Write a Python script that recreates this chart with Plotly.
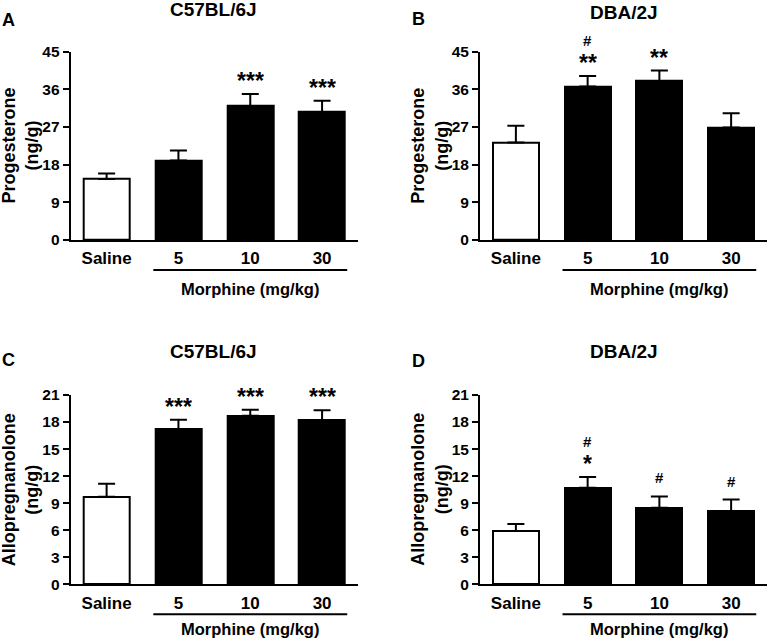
import plotly.graph_objects as go

# ---------------- data ----------------
categories = ["Saline", "5", "10", "30"]

prog_b6_mean = [14.6, 19.0, 32.0, 30.6]
prog_b6_sem = [1.3, 2.4, 2.9, 2.7]
prog_dba_mean = [23.3, 36.7, 38.0, 26.9]
prog_dba_sem = [4.0, 2.5, 2.5, 3.4]
allo_b6_mean = [9.7, 17.2, 18.7, 18.2]
allo_b6_sem = [1.45, 1.05, 0.65, 1.1]
allo_dba_mean = [5.9, 10.7, 8.5, 8.1]
allo_dba_sem = [0.8, 1.2, 1.25, 1.3]

stars_A = ["", "", "***", "***"]
stars_B = ["", "**", "**", ""]
stars_C = ["", "***", "***", "***"]
stars_D = ["", "*", "", ""]
hash_A = ["", "", "", ""]
hash_B = ["", "#", "", ""]
hash_C = ["", "", "", ""]
hash_D = ["", "#", "#", "#"]

panel_letters = ["A", "B", "C", "D"]
strain_titles = ["C57BL/6J", "DBA/2J", "C57BL/6J", "DBA/2J"]
y_titles = ["Progesterone<br>(ng/g)", "Progesterone<br>(ng/g)",
            "Allopregnanolone<br>(ng/g)", "Allopregnanolone<br>(ng/g)"]
x_group_label = "Morphine (mg/kg)"
y_ranges = [45, 45, 21, 21]
y_dticks = [9, 9, 3, 3]

# ---------------- layout helpers ----------------
W, H = 767, 641
FONT = "Liberation Sans, Arial, Helvetica, sans-serif"


def px(x):
    return x / W


def py(y):
    return 1 - y / H


# pixel geometry of the four plot areas: (left, right, top, bottom)
areas = [
    (70.7, 358.0, 51.7, 240.0),
    (480.0, 767.0, 51.7, 240.0),
    (70.7, 358.0, 395.0, 584.3),
    (480.0, 767.0, 395.0, 584.3),
]

means = [prog_b6_mean, prog_dba_mean, allo_b6_mean, allo_dba_mean]
sems = [prog_b6_sem, prog_dba_sem, allo_b6_sem, allo_dba_sem]
stars = [stars_A, stars_B, stars_C, stars_D]
hashes = [hash_A, hash_B, hash_C, hash_D]

BAR_W = 0.64


def bold(size):
    return dict(family=FONT, size=size, color="black", weight="bold")


fig = go.Figure()
annotations = []
shapes = []

for i in range(4):
    ax = "" if i == 0 else str(i + 1)
    xref, yref = "x" + ax, "y" + ax
    l, r, t, b = areas[i]

    fig.add_trace(go.Bar(
        x=list(range(len(categories))),
        y=means[i],
        width=BAR_W,
        marker=dict(color=["white", "black", "black", "black"],
                    line=dict(color="black", width=2)),
        error_y=dict(type="data", array=sems[i],
                     arrayminus=[0] * len(categories), symmetric=False,
                     color="black", thickness=2, width=8.5),
        xaxis=xref, yaxis=yref, showlegend=False, hoverinfo="skip",
    ))

    axis_common = dict(showline=True, linecolor="black", linewidth=2,
                       showgrid=False, zeroline=False, mirror=False,
                       automargin=False)
    fig.layout["xaxis" + ax] = dict(
        axis_common, domain=[px(l), px(r)], range=[-0.5, 3.5],
        tickmode="array", tickvals=list(range(len(categories))),
        ticktext=categories, ticks="outside", ticklen=2,
        tickcolor="rgba(0,0,0,0)", anchor=yref, fixedrange=True,
        tickfont=bold(17))
    fig.layout["yaxis" + ax] = dict(
        axis_common, domain=[py(b), py(t)], range=[0, y_ranges[i]],
        dtick=y_dticks[i], tick0=0, ticks="outside", ticklen=6,
        tickwidth=2, tickcolor="black", anchor=xref, fixedrange=True,
        tickfont=bold(15.5))

    # significance marks
    for k in range(len(categories)):
        top = means[i][k] + sems[i][k]
        if stars[i][k]:
            annotations.append(dict(
                x=k, y=top, xref=xref, yref=yref, text=stars[i][k],
                showarrow=False, yanchor="bottom", yshift=-2,
                font=bold(23)))
        if hashes[i][k]:
            annotations.append(dict(
                x=k, y=top, xref=xref, yref=yref, text=hashes[i][k],
                showarrow=False, yanchor="bottom",
                yshift=25 if stars[i][k] else 8,
                font=bold(15)))

    # group underline for morphine doses
    line_y = b + 30
    shapes.append(dict(type="line", xref=xref, yref="paper",
                       x0=1 - BAR_W / 2 - 0.03, x1=3 + BAR_W / 2 + 0.03,
                       y0=py(line_y), y1=py(line_y),
                       line=dict(color="black", width=2)))
    annotations.append(dict(
        x=2, y=py(b + (49 if i < 2 else 45)), xref=xref, yref="paper",
        text=x_group_label, showarrow=False, yanchor="middle",
        font=bold(16.5)))

    # panel titles
    title_y = [9, 12.5, 351.5, 351][i]
    annotations.append(dict(
        x=(l + r) / 2 / W - (1 / W if i % 2 == 0 else 0), y=py(title_y),
        xref="paper", yref="paper", text=strain_titles[i], showarrow=False,
        yanchor="middle", xanchor="center", font=bold(19)))
    letter_y = [20.5, 18.5, 360, 361][i]
    annotations.append(dict(
        x=px(l - 62), y=py(letter_y), xref="paper", yref="paper",
        text=panel_letters[i], showarrow=False, xanchor="center",
        yanchor="middle", font=bold(18)))

    # y-axis title
    annotations.append(dict(
        x=px(l - 50), y=py((t + b) / 2), xref="paper", yref="paper",
        text=y_titles[i], showarrow=False, textangle=-90,
        xanchor="center", yanchor="middle", font=bold(18)))

fig.update_layout(
    width=W, height=H,
    margin=dict(l=0, r=0, t=0, b=0, pad=0, autoexpand=False),
    paper_bgcolor="white", plot_bgcolor="white",
    bargap=0, annotations=annotations, shapes=shapes,
    font=dict(family=FONT, color="black"),
)

fig.write_html(
    "out.html",
    config={"displayModeBar": False},
    post_script="document.body.style.margin='0';"
                "document.body.style.overflow='hidden';",
)
